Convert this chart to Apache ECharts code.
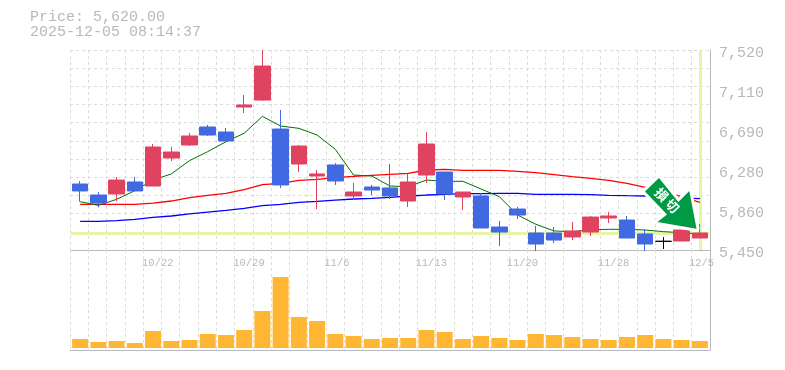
<!DOCTYPE html>
<html><head><meta charset="utf-8">
<style>html,body{margin:0;padding:0;background:#fff}#c{width:785px;height:370px}</style>
<script src="https://cdn.jsdelivr.net/npm/echarts@6/dist/echarts.min.js"></script>
</head><body><div id="c"></div>
<script>
var dates = ['10/16','10/17','10/20','10/21','10/22','10/23','10/24','10/27','10/28','10/29','10/30','10/31','11/4','11/5','11/6','11/7','11/10','11/11','11/12','11/13','11/14','11/17','11/18','11/19','11/20','11/21','11/25','11/26','11/27','11/28','12/1','12/2','12/3','12/4','12/5'];
var shownDates = ['10/22','10/29','11/6','11/13','11/20','11/28','12/5'];
var opens  = [6133,6019,6030,6154,6112,6402,6537,6723,6671,6930,7002,6702,6340,6216,6330,6009,6102,6092,5957,6226,6257,5999,6009,5688,5874,5626,5626,5585,5636,5781,5760,5616,5540,5543,5574];
var closes = [6061,5936,6174,6061,6516,6464,6630,6640,6578,6951,7354,6123,6526,6237,6164,6050,6071,6009,6154,6547,6030,6050,5678,5636,5812,5512,5553,5647,5791,5802,5574,5512,5540,5657,5626];
var lows   = [5950,5892,5957,6061,6112,6371,6526,6630,6568,6868,6992,6092,6257,5874,6123,5967,6019,5978,5895,6143,5967,5864,5678,5491,5771,5440,5522,5553,5595,5729,5574,5440,5460,5543,5574];
var highs  = [6164,6050,6206,6206,6547,6516,6661,6744,6713,7054,7520,6899,6537,6278,6350,6143,6123,6340,6237,6671,6257,6050,6040,5750,5895,5698,5688,5740,5802,5843,5802,5667,5584,5657,5719];
var ma5  = [5950,5912,5974,6064,6174,6237,6375,6468,6571,6658,6833,6733,6709,6640,6492,6226,6216,6112,6105,6174,6161,6161,6081,6002,5812,5716,5647,5640,5660,5664,5664,5657,5640,5629,5616];
var ma25 = [5923,5923,5923,5923,5936,5957,5992,6016,6036,6074,6126,6140,6171,6181,6199,6212,6223,6233,6243,6278,6285,6275,6275,6275,6264,6250,6230,6209,6192,6171,6140,6099,6054,6002,5943];
var ma75 = [5747,5747,5754,5767,5788,5802,5823,5843,5861,5881,5909,5923,5943,5954,5967,5978,5985,5995,6009,6019,6026,6033,6033,6036,6036,6026,6026,6026,6023,6016,6012,6009,6002,5988,5981];
var volumes = [9000,6000,7000,5000,17000,7000,8000,14000,13000,18000,37000,71000,31000,27000,14000,12000,9000,10000,10000,18000,16000,9000,12000,10000,8000,14000,13000,11000,9000,8000,11000,13000,9000,8000,7000];
var priceTicks = [5450,7520];
var lastPrice = 5620;
var titleLines = 'Price: 5,620.00\n2025-12-05 08:14:37';
var badgeChars = ['損','切'];

var MONO = '"Liberation Mono", monospace';
var GRAY = '#b8b8b8', GRID = '#dcdcdc';
var candleData = dates.map(function (d, i) {
  var doji = opens[i] === closes[i];
  return doji ? {value: [opens[i], closes[i], lows[i], highs[i]], itemStyle: {color: '#000', color0: '#000', borderColor: '#000', borderColor0: '#000', borderColorDoji: '#000'}}
              : [opens[i], closes[i], lows[i], highs[i]];
});
var arrowPoints = [[659,178],[645,191.5],[667,214.5],[657.5,222],[696.5,228.7],[689.3,191],[678.3,202]];
var hidden = {axisLine: {show: false}, axisTick: {show: false}, axisLabel: {show: false}, splitLine: {show: false}};
function ax(extra) { return Object.assign({}, hidden, extra); }
var chart = echarts.init(document.getElementById('c'), null, {renderer: 'canvas'});
var chartOption = {
  animation: false,
  backgroundColor: '#fff',
  textStyle: {fontFamily: MONO},
  title: {text: titleLines, left: 25, top: 5, textStyle: {fontFamily: MONO, fontSize: 15, fontWeight: 'normal', color: GRAY, lineHeight: 15}},
  grid: [
    {left: 70, width: 640, top: 50, height: 200},
    {left: 70, width: 640, top: 250, height: 100},
    {left: 71, width: 638, top: 50, height: 200},
    {left: 71, width: 638, top: 248, height: 100},
    {left: 60, width: 638, top: 250, height: 100},
    {left: 71, width: 638, top: 53, height: 200}
  ],
  xAxis: [
    ax({gridIndex: 0, type: 'category', data: dates, splitLine: {show: true, interval: 0, lineStyle: {color: GRID, type: [3, 3], width: 1}}}),
    ax({gridIndex: 1, type: 'category', data: dates, splitLine: {show: true, interval: 0, lineStyle: {color: GRID, type: [3, 3], width: 1}}}),
    ax({gridIndex: 2, type: 'category', data: dates}),
    ax({gridIndex: 3, type: 'category', data: dates}),
    ax({gridIndex: 4, type: 'category', data: dates, position: 'top',
      axisLabel: {show: true, inside: true, margin: 13, align: 'left', verticalAlign: 'middle', interval: 0, fontFamily: MONO, fontSize: 10.5, color: GRAY,
        formatter: function (v) { return shownDates.indexOf(v) >= 0 ? v : ''; }}}),
    ax({gridIndex: 5, type: 'category', data: dates})
  ],
  yAxis: [
    ax({gridIndex: 0, type: 'value', position: 'right', min: 0, max: 11, interval: 1,
      axisLine: {show: true, onZero: false, lineStyle: {color: GRAY}},
      splitLine: {show: true, lineStyle: {color: GRID, type: [3, 3], width: 1}}}),
    ax({gridIndex: 1, type: 'value', position: 'right', min: 0, max: 1, interval: 1,
      axisLine: {show: true, onZero: false, lineStyle: {color: GRAY}},
      splitLine: {show: true, lineStyle: {color: GRAY, width: 1}}}),
    ax({gridIndex: 2, type: 'value', min: priceTicks[0], max: priceTicks[1]}),
    ax({gridIndex: 3, type: 'value', min: 0, max: 100000}),
    ax({gridIndex: 4, type: 'value'}),
    ax({gridIndex: 5, type: 'value', position: 'right', min: priceTicks[0], max: priceTicks[1], interval: 414,
      axisLabel: {show: true, margin: 10, fontFamily: MONO, fontSize: 15, color: GRAY,
        formatter: function (v) { return (Math.round(v / 10) * 10).toLocaleString('en-US'); }}})
  ],
  series: [
    {name: 'Price', type: 'line', xAxisIndex: 2, yAxisIndex: 2, data: [], z: 1, silent: true,
      markLine: {silent: true, symbol: 'none', label: {show: false}, z: 1,
        lineStyle: {color: '#e5f5a8', width: 3, type: 'solid'},
        data: [{yAxis: lastPrice}, {xAxis: dates[dates.length - 1]}]}},
    {name: 'MA75', type: 'line', xAxisIndex: 2, yAxisIndex: 2, data: ma75, showSymbol: false, z: 2, lineStyle: {color: '#0000ff', width: 1.3}},
    {name: 'MA25', type: 'line', xAxisIndex: 2, yAxisIndex: 2, data: ma25, showSymbol: false, z: 2, lineStyle: {color: '#ff0000', width: 1.3}},
    {name: 'MA5', type: 'line', xAxisIndex: 2, yAxisIndex: 2, data: ma5, showSymbol: false, z: 2, lineStyle: {color: '#007000', width: 1}},
    {name: 'Candle', type: 'candlestick', xAxisIndex: 2, yAxisIndex: 2, data: candleData, z: 3, clip: false, barWidth: 16,
      itemStyle: {color: '#e0435f', color0: '#4169e1', borderColor: '#e0435f', borderColor0: '#4169e1', borderWidth: 1}},
    {name: 'Volume', type: 'bar', xAxisIndex: 3, yAxisIndex: 3, data: volumes, barWidth: 16, itemStyle: {color: '#ffb733'}}
  ],
  graphic: [
    {type: 'polygon', z: 100, shape: {points: arrowPoints}, style: {fill: '#fff', stroke: '#fff', lineWidth: 6, lineJoin: 'round'}},
    {type: 'polygon', z: 101, shape: {points: arrowPoints}, style: {fill: '#009944'}},
    {type: 'text', z: 102, x: 661.7, y: 194.7, rotation: -Math.PI / 4, style: {text: badgeChars[0], fill: '#fff', font: 'bold 13px "Noto Sans CJK JP"', align: 'center', verticalAlign: 'middle'}},
    {type: 'text', z: 102, x: 672.3, y: 206, rotation: -Math.PI / 4, style: {text: badgeChars[1], fill: '#fff', font: 'bold 13px "Noto Sans CJK JP"', align: 'center', verticalAlign: 'middle'}}
  ]
};
chart.setOption(chartOption);
</script></body></html>
